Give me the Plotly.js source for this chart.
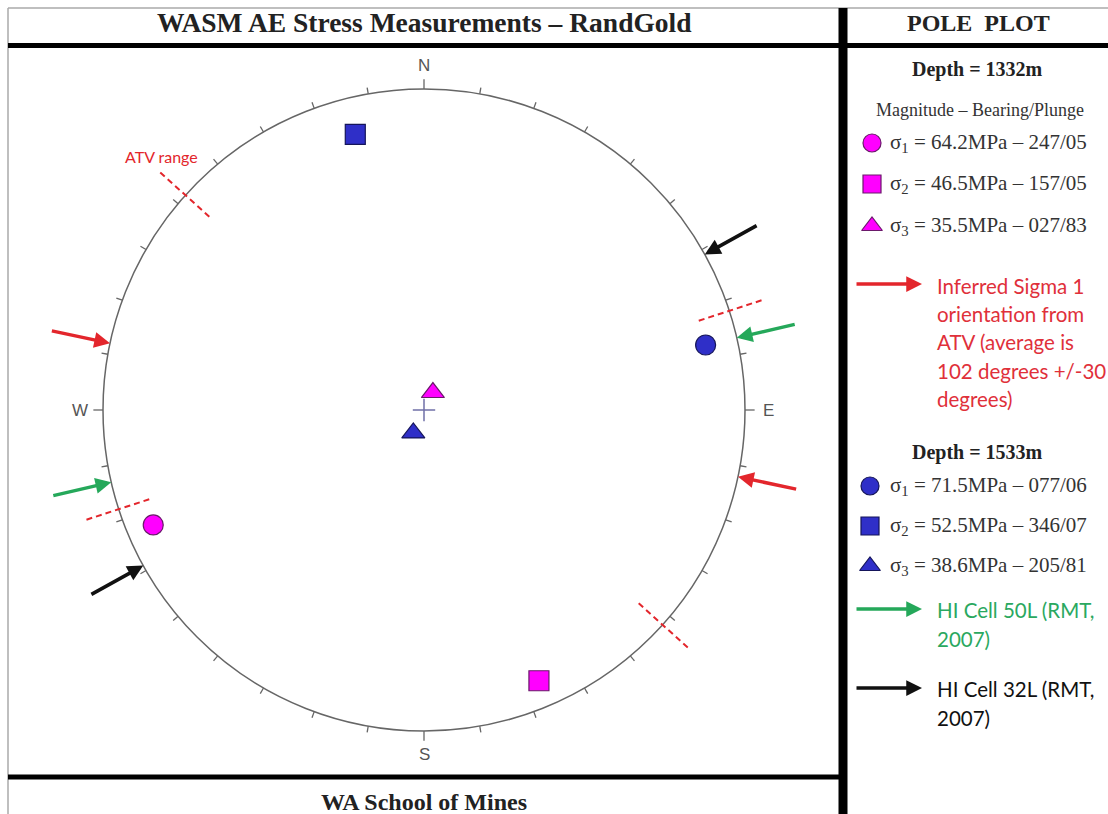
<!DOCTYPE html>
<html>
<head>
<meta charset="utf-8">
<script src="https://cdn.plot.ly/plotly-3.0.1.min.js"></script>
<style>
html,body{margin:0;padding:0;background:#fff;}
#chart{width:1108px;height:814px;}
</style>
</head>
<body>
<div id="chart"></div>
<script>
// ---------------- DATA ----------------
const depths = ['1332m', '1533m'];
const stressNames = ['1', '2', '3'];           // sigma subscripts
const stressSymbols = ['circle', 'square', 'triangle-up'];
const magnitude1332 = [64.2, 46.5, 35.5];      // MPa
const bearing1332 = [247, 157, 27];            // degrees
const plunge1332 = [5, 5, 83];                 // degrees
const magnitude1533 = [71.5, 52.5, 38.6];
const bearing1533 = [77, 346, 205];
const plunge1533 = [6, 7, 81];
const atvAverage = 102;                        // inferred sigma 1 orientation from ATV
const atvSpread = 30;                          // +/- degrees
const hiCell50L = 77;                          // HI Cell 50L (RMT, 2007) orientation
const hiCell32L = 61;                          // HI Cell 32L (RMT, 2007) orientation
const compassLabels = ['N', 'E', 'S', 'W'];
const compassAzimuths = [0, 90, 180, 270];
const tickStep = 10;

// ---------------- LAYOUT CONSTANTS ----------------
const W = 1108, H = 814;
const CX = 424, CY = 410, RPX = 321;   // net centre and radius in pixels
const MAG = '#ff00ff', MAG_LINE = '#6a1a6a';
const BLUE = '#2f2fc8', BLUE_LINE = '#15155a';
const RED = '#e3262c', GREEN = '#25a85a', BLACK = '#111111';
const SERIF = 'Liberation Serif, Times New Roman, serif';
const SANS = 'Lato, Liberation Sans, sans-serif';

const d2r = Math.PI / 180;
// stereographic (equal-angle) lower-hemisphere projection
function project(az, pl) {
  const r = Math.tan((90 - pl) / 2 * d2r);
  return [r * Math.sin(az * d2r), r * Math.cos(az * d2r)];
}
function polarXY(az, r) { return [r * Math.sin(az * d2r), r * Math.cos(az * d2r)]; }
const px = x => x / W;
const py = y => 1 - y / H;
const pad = (v, n) => String(v).padStart(n, '0');

const traces = [];

// ticks every 10 degrees
const tx = [], ty = [];
for (let az = 0; az < 360; az += tickStep) {
  const card = compassAzimuths.includes(az);
  const a = polarXY(az, 1), b = polarXY(az, card ? 1.03 : 1.02);
  tx.push(a[0], b[0], null); ty.push(a[1], b[1], null);
}
traces.push({x: tx, y: ty, mode: 'lines', line: {color: '#666', width: 1.3}, hoverinfo: 'skip', showlegend: false});

// ATV range dashed markers
const ax_ = [], ay_ = [];
[atvAverage - atvSpread, atvAverage + atvSpread, atvAverage - atvSpread + 180, atvAverage + atvSpread + 180].forEach(az => {
  const a = polarXY(az, 0.9), b = polarXY(az, 1.11);
  ax_.push(a[0], b[0], null); ay_.push(a[1], b[1], null);
});
traces.push({x: ax_, y: ay_, mode: 'lines', line: {color: RED, width: 2, dash: '6px,4px'}, hoverinfo: 'skip', showlegend: false});

// centre cross
traces.push({x: [0], y: [0], mode: 'markers', marker: {symbol: 'cross-thin', size: 16, line: {color: '#7070a8', width: 1.5}}, hoverinfo: 'skip', showlegend: false});

// poles
function poleTrace(bearings, plunges, mags, fill, edge, depth) {
  const xs = [], ys = [];
  bearings.forEach((b, i) => { const p = project(b, plunges[i]); xs.push(p[0]); ys.push(p[1]); });
  return {x: xs, y: ys, mode: 'markers', name: depth,
    text: mags.map((m, i) => 'σ' + stressNames[i] + ' = ' + m + 'MPa'),
    marker: {symbol: stressSymbols, size: 20, color: fill, line: {color: edge, width: 1.2}},
    showlegend: false};
}
traces.push(poleTrace(bearing1332, plunge1332, magnitude1332, MAG, MAG_LINE, depths[0]));
traces.push(poleTrace(bearing1533, plunge1533, magnitude1533, BLUE, BLUE_LINE, depths[1]));

// legend key symbols (right panel, pixel axes)
const keyRows1332 = [143, 184, 226];
const keyRows1533 = [486, 526, 566];
traces.push({x: [872, 872, 872], y: keyRows1332, xaxis: 'x2', yaxis: 'y2', mode: 'markers',
  marker: {symbol: stressSymbols, size: 18, color: MAG, line: {color: MAG_LINE, width: 1.2}}, hoverinfo: 'skip', showlegend: false});
traces.push({x: [870, 870, 870], y: keyRows1533, xaxis: 'x2', yaxis: 'y2', mode: 'markers',
  marker: {symbol: stressSymbols, size: 18, color: BLUE, line: {color: BLUE_LINE, width: 1.2}}, hoverinfo: 'skip', showlegend: false});

const annotations = [];
const shapes = [];

// net circle
shapes.push({type: 'circle', xref: 'x', yref: 'y', x0: -1, x1: 1, y0: -1, y1: 1, line: {color: '#666', width: 1.5}, layer: 'below'});

// frame
shapes.push({type: 'line', xref: 'paper', yref: 'paper', x0: px(8), x1: 1, y0: py(8), y1: py(8), line: {color: '#aaa', width: 1.5}});
shapes.push({type: 'line', xref: 'paper', yref: 'paper', x0: px(8), x1: px(8), y0: py(8), y1: 0, line: {color: '#aaa', width: 1.5}});
shapes.push({type: 'line', xref: 'paper', yref: 'paper', x0: px(8), x1: 1, y0: py(45.5), y1: py(45.5), line: {color: '#000', width: 5}});
shapes.push({type: 'line', xref: 'paper', yref: 'paper', x0: px(8), x1: px(840), y0: py(777), y1: py(777), line: {color: '#000', width: 5}});
shapes.push({type: 'line', xref: 'paper', yref: 'paper', x0: px(843), x1: px(843), y0: py(8), y1: 0, line: {color: '#000', width: 9}});

// orientation arrows on the net
function netArrow(az, color) {
  const tip = polarXY(az, 1.0), tail = polarXY(az, 1.19);
  annotations.push({x: tip[0], y: tip[1], xref: 'x', yref: 'y', ax: tail[0], ay: tail[1], axref: 'x', ayref: 'y',
    text: '', showarrow: true, arrowhead: 2, arrowsize: 0.9, arrowwidth: 3.5, arrowcolor: color, standoff: 0});
}
[atvAverage, atvAverage + 180].forEach(a => netArrow(a, RED));
[hiCell50L, hiCell50L + 180].forEach(a => netArrow(a, GREEN));
[hiCell32L, hiCell32L + 180].forEach(a => netArrow(a, BLACK));

// key arrows in the right panel
function keyArrow(y, color) {
  annotations.push({x: px(922), y: py(y), ax: px(855), ay: py(y), xref: 'paper', yref: 'paper', axref: 'paper', ayref: 'paper',
    text: '', showarrow: true, arrowhead: 2, arrowsize: 0.9, arrowwidth: 3.5, arrowcolor: color, standoff: 0});
}
keyArrow(284, RED);
keyArrow(609, GREEN);
keyArrow(688, BLACK);

// compass labels
compassLabels.forEach((lab, i) => {
  const p = polarXY(compassAzimuths[i], 1.072);
  annotations.push({x: p[0], y: p[1], xref: 'x', yref: 'y', text: lab, showarrow: false,
    font: {family: 'Liberation Sans, sans-serif', size: 17, color: '#555'}, xanchor: 'center', yanchor: 'middle'});
});

// ATV range label
{
  const p = polarXY(atvAverage + atvSpread + 180 + 2, 1.135);
  annotations.push({x: p[0], y: p[1], xref: 'x', yref: 'y', text: 'ATV range', showarrow: false,
    font: {family: SANS, size: 16, color: RED}, xanchor: 'center', yanchor: 'middle'});
}

// texts
function txt(x, y, text, font, xanchor) {
  annotations.push({x: px(x), y: py(y), xref: 'paper', yref: 'paper', text: text, showarrow: false,
    xanchor: xanchor || 'center', yanchor: 'middle', font: font});
}
txt(424, 23, '<b>WASM AE Stress Measurements – RandGold</b>', {family: SERIF, size: 27.5, color: '#222'});
txt(978, 23, '<b>POLE\u00a0\u00a0PLOT</b>', {family: SERIF, size: 24, color: '#222'});
txt(424, 802, '<b>WA School of Mines</b>', {family: SERIF, size: 24, color: '#222'});

// right panel: depth 1332
txt(977, 70, '<b>Depth = ' + depths[0] + '</b>', {family: SERIF, size: 20, color: '#222'});
txt(980, 110, 'Magnitude – Bearing/Plunge', {family: SERIF, size: 18, color: '#333'});
const legFont = {family: SERIF, size: 21, color: '#333'};
magnitude1332.forEach((m, i) => txt(888, keyRows1332[i], 'σ<sub>' + stressNames[i] + '</sub> = ' + m.toFixed(1) + 'MPa – ' + pad(bearing1332[i], 3) + '/' + pad(plunge1332[i], 2), legFont, 'left'));

const redFont = {family: SANS, size: 20.5, color: '#e0303a'};
const redLines = ['Inferred Sigma 1', 'orientation from', 'ATV (average is', atvAverage + ' degrees +/-' + atvSpread, 'degrees)'];
redLines.forEach((l, i) => txt(935, 286 + i * 28.2, l, redFont, 'left'));

// depth 1533
txt(977, 452, '<b>Depth = ' + depths[1] + '</b>', {family: SERIF, size: 20, color: '#222'});
magnitude1533.forEach((m, i) => txt(888, keyRows1533[i], 'σ<sub>' + stressNames[i] + '</sub> = ' + m.toFixed(1) + 'MPa – ' + pad(bearing1533[i], 3) + '/' + pad(plunge1533[i], 2), legFont, 'left'));

const greenFont = {family: SANS, size: 20.5, color: '#2aa860'};
const blackFont = {family: SANS, size: 20.5, color: '#111'};
txt(935, 610, 'HI Cell 50L (RMT,', greenFont, 'left');
txt(935, 639, '2007)', greenFont, 'left');
txt(935, 689, 'HI Cell 32L (RMT,', blackFont, 'left');
txt(935, 718, '2007)', blackFont, 'left');

const layout = {
  width: W, height: H,
  margin: {l: 0, r: 0, t: 0, b: 0},
  paper_bgcolor: '#fff', plot_bgcolor: 'rgba(0,0,0,0)',
  xaxis: {range: [-CX / RPX, (W - CX) / RPX], visible: false, fixedrange: true, domain: [0, 1]},
  yaxis: {range: [-(H - CY) / RPX, CY / RPX], visible: false, fixedrange: true, domain: [0, 1]},
  xaxis2: {range: [0, W], visible: false, fixedrange: true, overlaying: 'x', domain: [0, 1]},
  yaxis2: {range: [H, 0], visible: false, fixedrange: true, overlaying: 'y', domain: [0, 1]},
  shapes: shapes,
  annotations: annotations,
  showlegend: false
};

Plotly.newPlot('chart', traces, layout, {displayModeBar: false, staticPlot: true});
</script>
</body>
</html>
